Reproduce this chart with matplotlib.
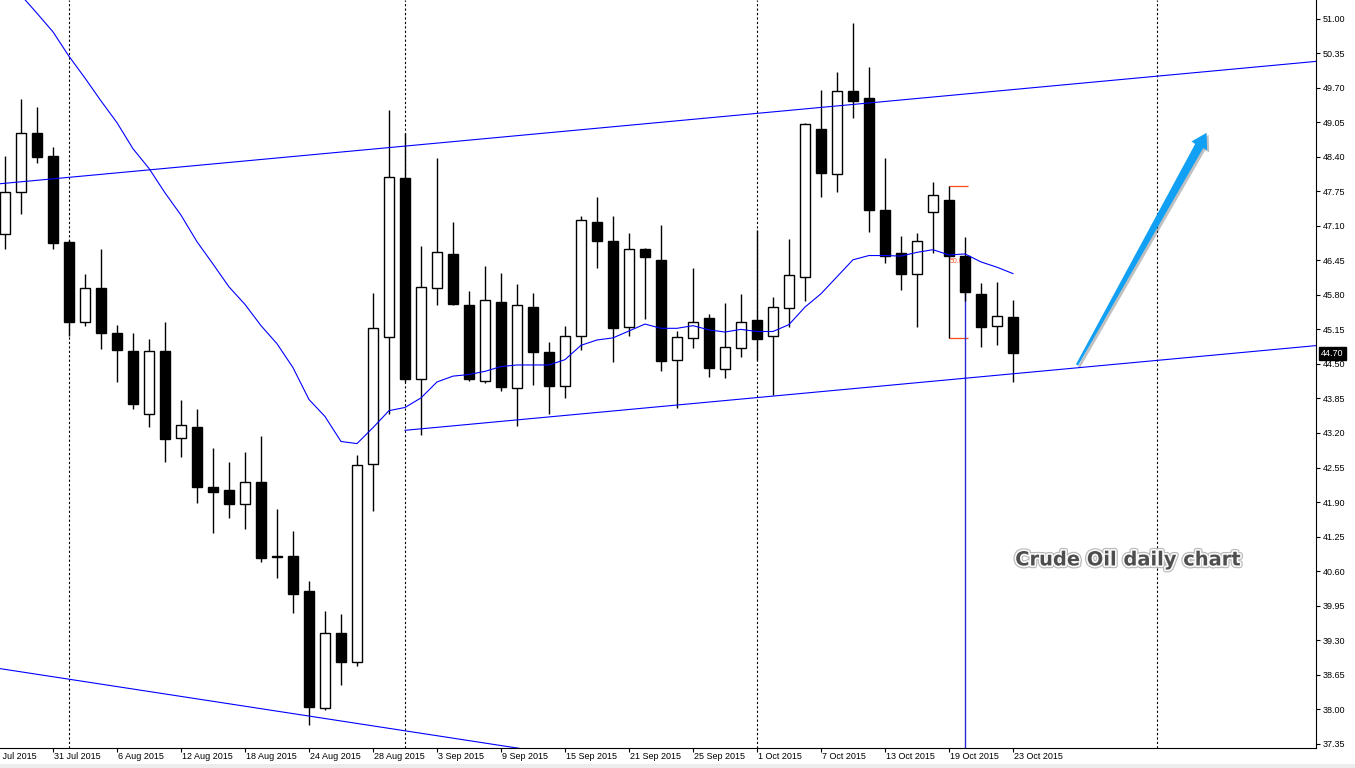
import numpy as np
import pandas as pd
import matplotlib
matplotlib.use('Agg')
import matplotlib.pyplot as plt
import matplotlib.patheffects as pe
from matplotlib.patches import Rectangle, Polygon

# daily bars, 28 Jul 2015 .. 23 Oct 2015
dates = pd.bdate_range('2015-07-28', '2015-10-23')

opens = [46.94, 47.73, 48.84, 48.42, 46.80, 45.28, 45.92, 45.09, 44.75, 43.56,
         44.75, 43.10, 43.32, 42.19, 42.13, 41.87, 42.28, 40.88, 40.88, 40.22,
         38.02, 39.43, 38.88, 42.61, 45.00, 47.99, 44.22, 45.92, 46.57, 45.61,
         44.17, 45.67, 44.05, 45.58, 44.72, 44.09, 45.03, 47.18, 46.82, 45.20,
         46.66, 46.46, 44.58, 44.99, 45.36, 44.41, 44.80, 45.32, 45.03, 45.56,
         46.14, 48.92, 48.07, 49.63, 49.51, 47.40, 46.59, 46.20, 47.35, 47.59,
         46.53, 45.82, 45.21, 45.39]
highs = [48.42, 49.49, 49.34, 48.58, 46.83, 46.19, 46.66, 45.23, 45.09, 44.97,
         45.28, 43.82, 43.66, 42.91, 42.65, 42.85, 43.14, 41.76, 41.36, 40.42,
         39.85, 39.80, 42.79, 45.84, 49.28, 48.84, 46.72, 48.37, 47.17, 45.88,
         46.35, 46.21, 46.00, 45.83, 44.92, 45.21, 47.29, 47.65, 47.29, 46.97,
         46.69, 47.11, 45.12, 46.30, 45.44, 45.65, 45.82, 47.02, 45.76, 46.86,
         49.04, 49.65, 50.00, 50.91, 50.08, 48.38, 46.91, 46.97, 47.92, 47.85,
         46.88, 46.03, 46.05, 45.71]
lows = [46.66, 47.33, 48.29, 46.66, 45.03, 45.21, 44.78, 44.15, 43.66, 43.31,
        42.65, 42.75, 41.88, 41.32, 41.59, 41.39, 40.77, 40.47, 39.82, 37.70,
        37.99, 38.46, 38.81, 41.74, 43.56, 44.16, 43.17, 45.61, 45.61, 44.18,
        44.14, 43.99, 43.33, 44.11, 43.55, 43.86, 44.76, 46.30, 44.54, 45.02,
        45.34, 44.36, 43.67, 44.80, 44.25, 44.23, 44.63, 44.57, 43.92, 45.19,
        45.68, 47.64, 47.73, 49.13, 46.99, 46.39, 45.90, 45.19, 46.59, 44.99,
        45.68, 44.82, 44.85, 44.15]
closes = [47.73, 48.84, 48.40, 46.77, 45.28, 45.92, 45.09, 44.76, 43.75, 44.75,
          43.08, 43.35, 42.19, 42.08, 41.87, 42.27, 40.85, 40.86, 40.17, 38.04,
          39.43, 38.88, 42.59, 45.18, 48.01, 44.22, 45.94, 46.60, 45.63, 44.22,
          45.70, 44.07, 45.60, 44.72, 44.09, 45.03, 47.20, 46.82, 45.18, 46.66,
          46.51, 44.56, 45.01, 45.28, 44.43, 44.81, 45.28, 44.97, 45.58, 46.17,
          49.01, 48.09, 49.63, 49.45, 47.40, 46.53, 46.20, 46.82, 47.67, 46.53,
          45.86, 45.19, 45.41, 44.70]
# moving average line (blue)
ma = [51.80, 51.44, 51.10, 50.75, 50.29, 49.88, 49.45, 49.04, 48.55, 48.18,
      47.72, 47.30, 46.80, 46.38, 45.95, 45.62, 45.22, 44.88, 44.43, 43.83,
      43.51, 43.04, 43.00, 43.30, 43.62, 43.68, 43.86, 44.16, 44.27, 44.30,
      44.36, 44.45, 44.48, 44.48, 44.48, 44.58, 44.85, 44.95, 44.99, 45.12,
      45.25, 45.17, 45.17, 45.22, 45.14, 45.10, 45.15, 45.11, 45.11, 45.24,
      45.57, 45.82, 46.14, 46.46, 46.54, 46.54, 46.53, 46.60, 46.65, 46.55,
      46.57, 46.42, 46.32, 46.20]

# trend lines: (bar, price) anchors
upper_line = ([0, 80], [47.90, 50.14])
lower_line = ([25, 80], [43.25, 44.79])
bottom_line = ([0, 40], [38.75, 36.90])
separators = [4, 25, 47, 72]
fib_bar, fib_high, fib_low = 59, 47.85, 44.99
vline_bar, vline_top = 60, 45.85
arrow_from = (67.0, 44.48)
arrow_to = (75.1, 48.85)
last_price = 44.70

ymin, ymax = 37.27, 51.35
xmin, xmax = -0.3125, 81.94
yticks = np.round(37.35 + 0.65 * np.arange(22), 2)
label_dates = pd.bdate_range('2015-07-27', '2015-10-23')[::4]
label_bars = np.arange(len(label_dates)) * 4 - 1

plt.rcParams['font.family'] = ['Liberation Sans', 'DejaVu Sans']

fig = plt.figure(figsize=(13.55, 7.68), dpi=100)
# light grey strip along the bottom edge
fig.patches.append(Rectangle((0, 0), 1, 4 / 768, transform=fig.transFigure,
                             fc='#ececec', ec='none', zorder=0))
ax = fig.add_axes([0, 1 - 748 / 768, 1316 / 1355, 748 / 768])
ax.set_xlim(xmin, xmax)
ax.set_ylim(ymin, ymax)

x = np.arange(len(opens))
o = np.array(opens); c = np.array(closes)
h = np.array(highs); l = np.array(lows)
up = c >= o

# wicks then bodies
ax.vlines(x, l, h, color='black', lw=1.0, zorder=2)
bottom = np.minimum(o, c)
height = np.maximum(np.abs(c - o), 0.015)
ax.bar(x[up], height[up], bottom=bottom[up], width=0.68, color='white',
       edgecolor='black', lw=1.0, zorder=3)
ax.bar(x[~up], height[~up], bottom=bottom[~up], width=0.68, color='black',
       edgecolor='black', lw=1.0, zorder=3)

# moving average
ax.plot(x, ma, color='blue', lw=0.8, zorder=4)

# channel lines
def draw_line(pts, start=None, stop=None):
    bx, py = pts
    slope = (py[1] - py[0]) / (bx[1] - bx[0])
    x0 = xmin - 1 if start is None else start
    x1 = xmax + 1 if stop is None else stop
    ax.plot([x0, x1], [py[0] + slope * (x0 - bx[0]), py[0] + slope * (x1 - bx[0])],
            color='blue', lw=0.8, zorder=4)

draw_line(upper_line)
draw_line(lower_line, start=lower_line[0][0])
draw_line(bottom_line)

# period separators
for s in separators:
    ax.axvline(s, color='black', lw=0.8, ls=(0, (2, 2)), zorder=1)

# fibonacci marks around 19 Oct
ax.hlines([fib_high, fib_low], fib_bar, fib_bar + 1.2, color='#ff4a1c', lw=0.9, zorder=1)
ax.text(fib_bar + 0.05, (fib_high + fib_low) / 2, '50.0', color='#ff4a1c',
        fontsize=5, va='center', zorder=1)

# vertical blue line
ax.vlines(vline_bar, ymin, vline_top, color='#2a2ad0', lw=1.0, zorder=1)

# blue arrow: shaft widening toward the head, built in pixel space
p0 = ax.transData.transform(arrow_from)
p1 = ax.transData.transform(arrow_to)
u = (p1 - p0) / np.hypot(*(p1 - p0))
n = np.array([-u[1], u[0]])
head_len, head_half, neck_half, tail_half = 15, 9, 4.5, 1.2
neck = p1 - head_len * u
outline = [p0 + tail_half * n, neck + neck_half * n, neck + head_half * n, p1,
           neck - head_half * n, neck - neck_half * n, p0 - tail_half * n]
outline = ax.transData.inverted().transform(np.array(outline))
arrow = Polygon(outline, closed=True, fc='#12a0f4', ec='none', zorder=6)
arrow.set_path_effects([pe.SimplePatchShadow(offset=(1.5, -1.5), shadow_rgbFace='#303030', alpha=0.3),
                        pe.Normal()])
ax.add_patch(arrow)

# caption
ax.text(70.2, 40.81, 'Crude Oil daily chart', fontsize=14, fontweight='heavy',
        color='#4e4e4e', ha='center', va='center', family='DejaVu Sans', zorder=6,
        path_effects=[pe.Stroke(linewidth=4, foreground='#b8b8b8'),
                      pe.Stroke(linewidth=2.4, foreground='#fafafa'), pe.Normal()])

# axes styling
for side in ['top', 'left']:
    ax.spines[side].set_visible(False)
for side in ['right', 'bottom']:
    ax.spines[side].set_color('black')
    ax.spines[side].set_linewidth(0.8)

ax.yaxis.tick_right()
ax.set_yticks(yticks)
ax.set_yticklabels(['%.2f' % v for v in yticks])
ax.tick_params(axis='y', direction='out', length=3, width=0.8, labelsize=6.5, pad=2)

ax.set_xticks([b for b in label_bars if b >= xmin])
ax.set_xticklabels([])
ax.tick_params(axis='x', direction='out', length=3, width=0.8)
for b, d in zip(label_bars, label_dates):
    ax.text(b + 0.05, -0.012, f'{d.day} {d:%b %Y}', transform=ax.get_xaxis_transform(),
            ha='left', va='center', fontsize=6.5, clip_on=False)

# last price tag
ax.text(1.004, last_price, '%.2f' % last_price, transform=ax.get_yaxis_transform(),
        ha='left', va='center', fontsize=6.5, color='white',
        bbox=dict(boxstyle='square,pad=0.2', fc='black', ec='black'), zorder=7, clip_on=False)

fig.savefig('out.png', dpi=100)
